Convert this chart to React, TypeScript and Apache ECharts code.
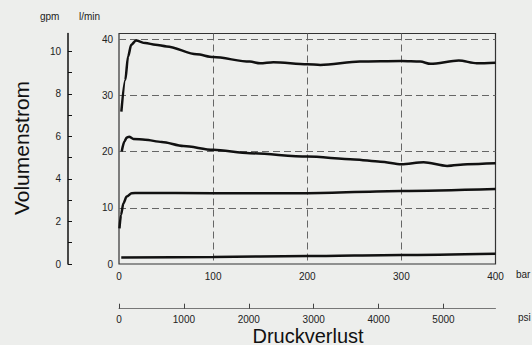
import React, { useEffect, useRef } from "react";
import * as echarts from "echarts";

// Pressure drop (bar) and flow rate (l/min)
const barX1 = [2.5, 6.7, 9.6, 13, 18, 28, 38.6, 50.7, 82.6, 100, 139, 150, 164, 200, 214, 256, 300, 320, 331, 361, 380, 400];
const flow1 = [27.1, 32.75, 36.9, 39.0, 39.75, 39.3, 39.0, 38.7, 37.3, 36.8, 36.0, 35.7, 35.9, 35.55, 35.4, 36.0, 36.1, 36.0, 35.6, 36.2, 35.7, 35.8];

const barX2 = [2.9, 5.7, 8.2, 10.7, 15.4, 27.7, 45.4, 68.4, 100, 139, 200, 250, 277.7, 300, 323.6, 348.6, 370, 400];
const flow2 = [20.0, 21.8, 22.5, 22.65, 22.25, 22.1, 21.7, 21.0, 20.3, 19.7, 19.1, 18.6, 18.2, 17.75, 18.1, 17.45, 17.75, 17.9];

const barX3 = [0.5, 2.1, 4.7, 8.2, 13.5, 20.6, 100, 200, 300, 400];
const flow3 = [6.35, 8.7, 10.8, 12.0, 12.6, 12.65, 12.6, 12.6, 13.0, 13.35];

const barX4 = [2.4, 100, 200, 300, 400];
const flow4 = [1.15, 1.25, 1.42, 1.6, 1.83];

const lminLabels = [0, 10, 20, 30, 40];
const gpmTicks = [0, 1, 2, 3, 4, 5, 6, 7, 8, 9, 10];
const gpmLabels = [0, 2, 4, 6, 8, 10];
const psiTicks = [0, 1000, 2000, 3000, 4000, 5000];

const BAR_MAX = 400;
const LMIN_MAX = 41;
const LMIN_PER_GPM = 3.785;
const PSI_PER_BAR = 14.5038;

const pairs = (xs: number[], ys: number[]) => xs.map((x, i) => [x, ys[i]]);

export default function App() {
  const ref = useRef<HTMLDivElement>(null);
  useEffect(() => {
    if (!ref.current) return;
    const chart = echarts.init(ref.current, null, { renderer: "svg" });
    const txt = "#222";
    const font = "Liberation Sans, Arial, sans-serif";
    const lineSeries = (xs: number[], ys: number[]) => ({
      type: "line",
      xAxisIndex: 0,
      yAxisIndex: 0,
      data: pairs(xs, ys),
      showSymbol: false,
      smooth: 0.3,
      smoothMonotone: "x",
      lineStyle: { color: "#111", width: 2.5 },
    });
    chart.setOption({
      animation: false,
      backgroundColor: "#edeeec",
      textStyle: { fontFamily: font },
      grid: {
        left: 119,
        right: 36.5,
        top: 33.5,
        bottom: 81,
        show: true,
        borderColor: "#333",
        borderWidth: 1.2,
        backgroundColor: "transparent",
      },
      xAxis: [
        {
          type: "value",
          min: 0,
          max: BAR_MAX,
          interval: 100,
          axisLine: { show: false },
          axisTick: { show: false },
          axisLabel: { color: txt, fontSize: 10, margin: 7, fontFamily: font },
          splitLine: {
            show: true,
            showMinLine: false,
            showMaxLine: false,
            lineStyle: { color: "#666", type: [7, 4], width: 1 },
          },
        },
        {
          type: "value",
          position: "bottom",
          offset: 44.7,
          min: 0,
          max: BAR_MAX * PSI_PER_BAR,
          interval: 1000,
          axisLine: { show: true, onZero: false, lineStyle: { color: "#777", width: 1 } },
          axisTick: { show: true, inside: true, length: 5, customValues: psiTicks, lineStyle: { color: "#444" } },
          axisLabel: {
            color: txt,
            fontSize: 10,
            margin: 6,
            fontFamily: font,
            customValues: psiTicks,
            formatter: (v: number) => (v % 1000 === 0 ? String(v) : ""),
          },
          splitLine: { show: false },
        },
      ],
      yAxis: [
        {
          type: "value",
          min: 0,
          max: LMIN_MAX,
          interval: 10,
          axisLine: { show: false },
          axisTick: { show: false },
          axisLabel: {
            color: txt,
            fontSize: 10,
            margin: 6,
            fontFamily: font,
            customValues: lminLabels,
            formatter: (v: number) => (v % 10 === 0 ? String(v) : ""),
          },
          splitLine: {
            show: true,
            showMinLine: false,
            showMaxLine: false,
            lineStyle: { color: "#666", type: [7, 4], width: 1 },
          },
        },
        {
          type: "value",
          position: "left",
          offset: 51,
          min: 0,
          max: LMIN_MAX / LMIN_PER_GPM,
          interval: 2,
          axisLine: { show: true, onZero: false, lineStyle: { color: "#111", width: 1.5 } },
          axisTick: { show: true, inside: true, length: 4, customValues: gpmTicks, lineStyle: { color: "#111" } },
          axisLabel: {
            color: txt,
            fontSize: 10,
            margin: 7,
            fontFamily: font,
            customValues: gpmLabels,
            formatter: (v: number) => (v % 2 === 0 ? String(v) : ""),
          },
          splitLine: { show: false },
        },
      ],
      graphic: [
        { type: "text", left: 40, top: 11, style: { text: "gpm", fontSize: 10, fill: txt, fontFamily: font } },
        { type: "text", left: 79, top: 11, style: { text: "l/min", fontSize: 10, fill: txt, fontFamily: font } },
        { type: "text", left: 516, top: 269, style: { text: "bar", fontSize: 10, fill: txt, fontFamily: font } },
        { type: "text", left: 518, top: 312, style: { text: "psi", fontSize: 10, fill: txt, fontFamily: font } },
        {
          type: "text",
          x: 308,
          y: 335.5,
          style: {
            text: "Druckverlust",
            fontSize: 20,
            lineHeight: 20,
            fill: "#111",
            fontFamily: font,
            align: "center",
            verticalAlign: "middle",
          },
        },
        {
          type: "text",
          x: 21,
          y: 148,
          rotation: Math.PI / 2,
          style: { text: "Volumenstrom", fontSize: 21, fill: "#111", fontFamily: font, align: "center", verticalAlign: "middle" },
        },
      ],
      series: [
        lineSeries(barX1, flow1),
        lineSeries(barX2, flow2),
        lineSeries(barX3, flow3),
        lineSeries(barX4, flow4),
      ],
    });
    return () => chart.dispose();
  }, []);
  return <div ref={ref} style={{ width: 532, height: 345, position: "absolute", left: 0, top: 0 }} />;
}
